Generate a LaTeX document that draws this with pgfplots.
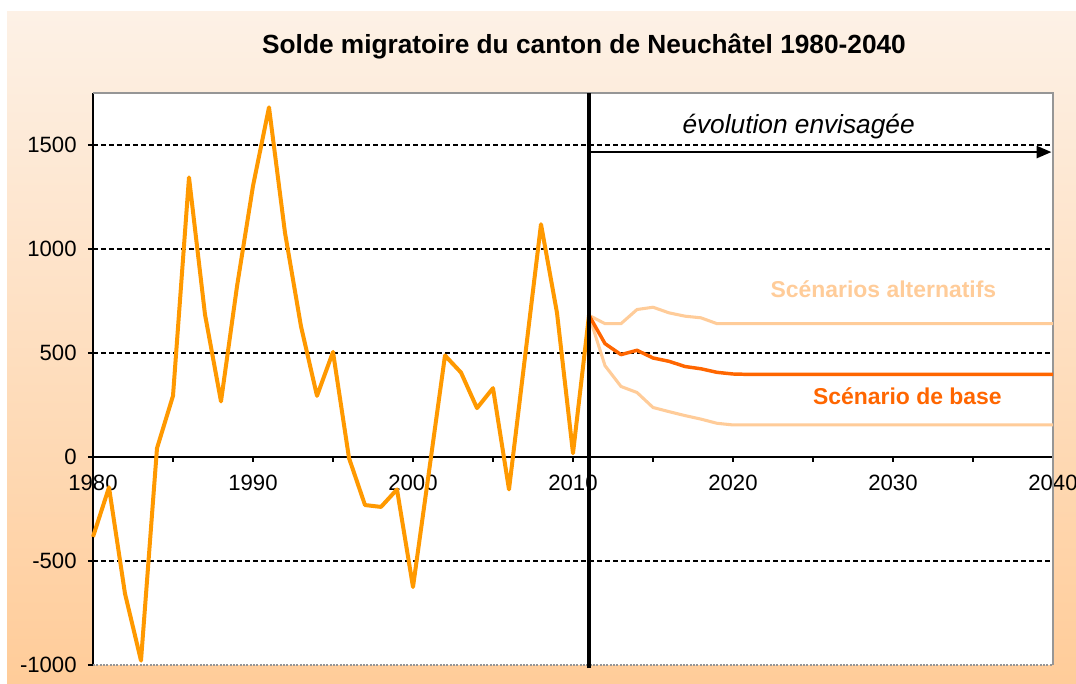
\documentclass[border=0pt]{standalone}
\usepackage{fontspec}
\setmainfont{Liberation Sans}
\usepackage{pgfplots}
\pgfplotsset{compat=1.18}
\usetikzlibrary{arrows.meta}
\definecolor{mainorange}{RGB}{255,153,0}
\definecolor{baseorange}{RGB}{255,102,0}
\definecolor{altpeach}{RGB}{255,204,153}
\definecolor{bgtop}{RGB}{253,241,230}
\definecolor{bgbot}{RGB}{255,204,153}
\definecolor{framegray}{RGB}{150,150,150}

\begin{document}
\begin{tikzpicture}[x=0.75pt,y=0.75pt]
\useasboundingbox (0,0) rectangle (1076,684);
\fill[white] (0,0) rectangle (1076,684);
\shade[top color=bgtop, bottom color=bgbot] (7,0) rectangle (1076,672);
\node[font=\fontsize{19.7}{23}\selectfont\bfseries] at (584,638) {Solde migratoire du canton de Neuchâtel 1980-2040};
\begin{axis}[
  at={(69.75pt,14.25pt)}, anchor=south west,
  scale only axis, width=720pt, height=429pt,
  xmin=1980, xmax=2040, ymin=-1000, ymax=1750,
  axis x line=middle, axis y line=left,
  x axis line style={-, line width=1.1pt},
  y axis line style={-, line width=1.6pt},
  hide obscured x ticks=false, hide obscured y ticks=false,
  axis background/.style={fill=white},
  clip=false,
  xtick={1980,1990,2000,2010,2020,2030,2040},
  xticklabels={1980,1990,2000,2010,2020,2030,2040},
  minor xtick={1985,1995,2005,2015,2025,2035},
  xtick align=outside, ytick align=outside,
  major tick length=3.75pt, minor tick length=3.75pt,
  every tick/.style={black, line width=1pt},
  ytick={-1000,0},
  yticklabels={-1000,0},
  extra y ticks={-500,500,1000,1500},
  extra y tick labels={-500,500,1000,1500},
  extra y tick style={ymajorgrids=true},
  major grid style={black, line width=0.85pt, dash pattern=on 4pt off 2pt},
  tick label style={font=\fontsize{16.6}{19}\selectfont},
  yticklabel style={xshift=-5pt},
  xticklabel style={yshift=-6.5pt},
]
% frame
\draw[framegray, line width=0.8pt] (rel axis cs:0,1) -- (rel axis cs:1,1) -- (rel axis cs:1,0);
\draw[framegray, line width=0.8pt, dash pattern=on 1.5pt off 1pt] (rel axis cs:0,0) -- (rel axis cs:1,0);

\addplot[altpeach, line width=2.3pt, line join=round] coordinates {
(2011,681) (2012,641) (2013,641) (2014,709) (2015,720) (2016,693) (2017,677) (2018,669) (2019,641) (2020,641) (2040,641)};
\addplot[altpeach, line width=2.3pt, line join=round] coordinates {
(2011,681) (2012,439) (2013,339) (2014,310) (2015,238) (2016,218) (2017,199) (2018,182) (2019,162) (2020,154) (2040,154)};
\addplot[baseorange, line width=2.6pt, line join=round] coordinates {
(2011,681) (2012,545) (2013,492) (2014,513) (2015,476) (2016,460) (2017,435) (2018,424) (2019,407) (2020,399) (2021,397) (2040,397)};
\addplot[mainorange, line width=3pt, line join=round] coordinates {
(1980,-384) (1981,-146) (1982,-657) (1983,-979) (1984,42) (1985,294) (1986,1344) (1987,685) (1988,267) (1989,820)
(1990,1303) (1991,1681) (1992,1078) (1993,628) (1994,294) (1995,505) (1996,-5) (1997,-231) (1998,-240) (1999,-156)
(2000,-625) (2001,-70) (2002,488) (2003,406) (2004,235) (2005,331) (2006,-156) (2007,480) (2008,1119) (2009,693)
(2010,18) (2011,681)};

\draw[black, line width=2.3pt] (axis cs:2011,-1015) -- (axis cs:2011,1750);
\draw[black, line width=1.6pt, -{Triangle[length=11pt,width=9pt]}] (axis cs:2011,1466) -- (axis cs:2039.9,1466);
\node[font=\fontsize{19.7}{23}\selectfont\itshape] at (axis cs:2024.1,1590) {évolution envisagée};
\node[font=\fontsize{17.2}{20}\selectfont\bfseries, text=altpeach] at (axis cs:2029.4,805) {Scénarios alternatifs};
\node[font=\fontsize{17.2}{20}\selectfont\bfseries, text=baseorange] at (axis cs:2030.9,294) {Scénario de base};
\end{axis}
\end{tikzpicture}
\end{document}
